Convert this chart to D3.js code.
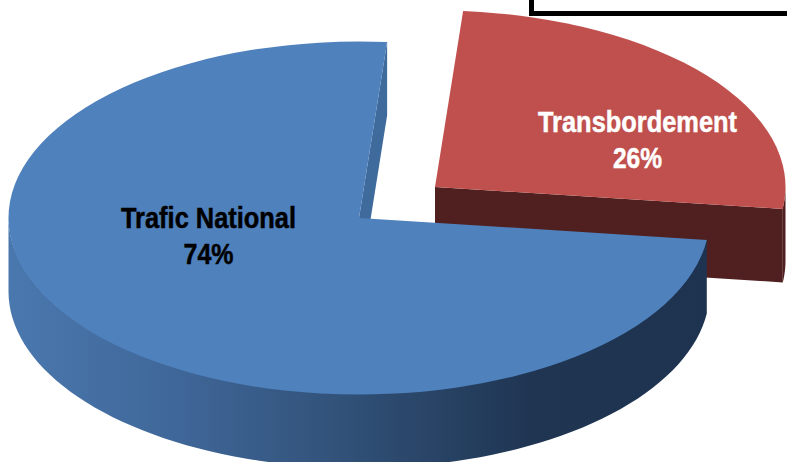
<!DOCTYPE html>
<html>
<head>
<meta charset="utf-8">
<title>Trafic</title>
<script src="https://cdn.jsdelivr.net/npm/d3@7"></script>
<style>
  html, body { margin: 0; padding: 0; background: #fff; }
  svg { display: block; }
  text { font-family: "Liberation Sans", sans-serif; font-weight: bold; font-size: 30px; text-anchor: middle; }
</style>
</head>
<body>
<svg id="chart" width="787" height="462"></svg>
<script>
// labels round these to 26 / 74
const slice_names = ["Transbordement", "Trafic National"];
const slice_values = [25.7, 74.3];

const width = 787;
const height = 462;
const radius_x = 350.5;
const radius_y = 176.5;
const depth = 73.5;
const first_angle = 4.6 * Math.PI / 180;

// per slice look, same order as the names
const centers = [[435, 187], [359, 218]];
const top_colors = ["#c0504d", "#4f81bd"];
const end_wall_colors = ["#4f201f", "#3f6a9c"];
const rim_colors = ["#4f201f", "url(#blue_rim)"];
const label_colors = ["#fff", "#000"];
const label_pos = [[637.5, 132], [208.5, 228]];
// no narrow bold installed, so squeeze the text to the widths in the picture
const name_widths = [199, 175];
const percent_widths = [49, 50];

const svg = d3.select("#chart");
const percent = d3.format(".0%");
const total = d3.sum(slice_values);

// rim shading runs left to right across the whole blue slice
const blue_rim = svg.append("defs").append("linearGradient")
  .attr("id", "blue_rim")
  .attr("gradientUnits", "userSpaceOnUse")
  .attr("x1", 8).attr("x2", 707).attr("y1", 0).attr("y2", 0);
blue_rim.selectAll("stop")
  .data([[0, "#4a78ae"], [0.25, "#3f6698"], [0.45, "#33547c"], [0.75, "#1f3552"], [1, "#1e3350"]])
  .enter().append("stop")
  .attr("offset", d => d[0])
  .attr("stop-color", d => d[1]);

const pie = d3.pie()
  .sort(null)
  .startAngle(first_angle)
  .endAngle(first_angle + 2 * Math.PI);
const arcs = pie(slice_values);

const top_arc = d3.arc().innerRadius(0).outerRadius(radius_x);

arcs.forEach((d, i) => {
  const [cx, cy] = centers[i];
  const x = d3.scaleLinear().domain([-1, 1]).range([cx - radius_x, cx + radius_x]);
  const y = d3.scaleLinear().domain([-1, 1]).range([cy - radius_y, cy + radius_y]);
  const g = svg.append("g").attr("class", "slice");

  // the cut edge at the end of the slice
  const edge = d3.line()([
    [x(0), y(0)],
    [x(Math.sin(d.endAngle)), y(-Math.cos(d.endAngle))],
    [x(Math.sin(d.endAngle)), y(-Math.cos(d.endAngle)) + depth],
    [x(0), y(0) + depth]
  ]);
  g.append("path").attr("d", edge + "Z").attr("fill", end_wall_colors[i]);

  // outer rim, only the front half of the ellipse can be seen
  const a0 = Math.max(d.startAngle, Math.PI / 2);
  const a1 = Math.min(d.endAngle, Math.PI * 1.5);
  const steps = d3.range(0, 81).map(k => a0 + (a1 - a0) * k / 80);
  // y0 tucked 1px under the top so no light seam shows
  const rim = d3.area()
    .x(a => x(Math.sin(a)))
    .y0(a => y(-Math.cos(a)) - 1)
    .y1(a => y(-Math.cos(a)) + depth);
  g.append("path").attr("d", rim(steps)).attr("fill", rim_colors[i]);

  g.append("path")
    .attr("d", top_arc(d))
    .attr("transform", `translate(${cx},${cy}) scale(1,${radius_y / radius_x})`)
    .attr("fill", top_colors[i]);
});

// labels go last so nothing covers them
const labels = svg.selectAll("text.label")
  .data(arcs)
  .enter().append("text")
  .attr("class", "label")
  .attr("fill", (d, i) => label_colors[i])
  .attr("stroke", (d, i) => label_colors[i])
  .attr("stroke-width", 0.5);
labels.append("tspan")
  .attr("x", (d, i) => label_pos[i][0])
  .attr("y", (d, i) => label_pos[i][1])
  .attr("textLength", (d, i) => name_widths[i])
  .attr("lengthAdjust", "spacingAndGlyphs")
  .text((d, i) => slice_names[i]);
labels.append("tspan")
  .attr("x", (d, i) => label_pos[i][0])
  .attr("y", (d, i) => label_pos[i][1] + 36)
  .attr("textLength", (d, i) => percent_widths[i])
  .attr("lengthAdjust", "spacingAndGlyphs")
  .text(d => percent(d.value / total));

// corner of the box that gets cut off at the top right
svg.append("path")
  .attr("d", d3.line()([[531.5, 0], [531.5, 13.5], [width + 5, 13.5]]))
  .attr("fill", "none")
  .attr("stroke", "#000")
  .attr("stroke-width", 5);
</script>
</body>
</html>
